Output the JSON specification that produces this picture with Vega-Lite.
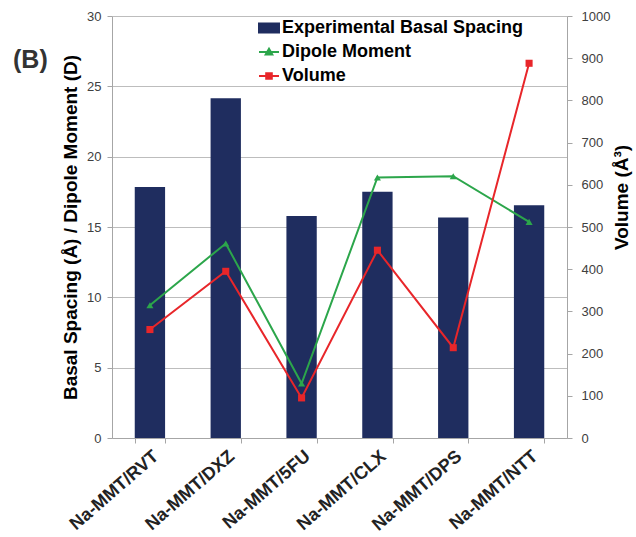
{
  "$schema": "https://vega.github.io/schema/vega-lite/v6.json",
  "width": 455,
  "height": 422,
  "autosize": "none",
  "padding": {"left": 112, "top": 16, "right": 69, "bottom": 99},
  "config": {
    "font": "Liberation Sans",
    "view": {"stroke": null},
    "axis": {
      "domainColor": "#a6a6a6",
      "tickColor": "#a6a6a6",
      "tickSize": 5,
      "labelFont": "Liberation Sans",
      "titleFont": "Liberation Sans"
    }
  },
  "title": {
    "text": "(B)",
    "anchor": "start",
    "frame": "group",
    "fontSize": 25,
    "fontWeight": "bold",
    "color": "#333333",
    "baseline": "alphabetic",
    "offset": 0,
    "dx": -99,
    "dy": 83
  },
  "data": {
    "values": [
      {"cat": "Na-MMT/RVT", "spacing": 17.85, "dipole": 9.44, "volume": 257},
      {"cat": "Na-MMT/DXZ", "spacing": 24.16, "dipole": 13.83, "volume": 395},
      {"cat": "Na-MMT/5FU", "spacing": 15.79, "dipole": 3.87, "volume": 95},
      {"cat": "Na-MMT/CLX", "spacing": 17.5, "dipole": 18.52, "volume": 445},
      {"cat": "Na-MMT/DPS", "spacing": 15.68, "dipole": 18.61, "volume": 214},
      {"cat": "Na-MMT/NTT", "spacing": 16.55, "dipole": 15.36, "volume": 888}
    ]
  },
  "encoding": {
    "x": {
      "field": "cat",
      "type": "nominal",
      "sort": null,
      "scale": {"paddingInner": 0.6, "paddingOuter": 0.3},
      "axis": {
        "title": null,
        "labelAngle": -41,
        "labelAlign": "right",
        "labelBaseline": "top",
        "labelFontSize": 18,
        "labelFontWeight": "bold",
        "labelColor": "#222222",
        "labelPadding": 4,
        "labelLimit": 0,
        "tickBand": "extent",
        "grid": false
      }
    }
  },
  "layer": [
    {
      "layer": [
        {
          "mark": {"type": "bar", "color": "#1f2d5f"},
          "encoding": {
            "y": {
              "field": "spacing",
              "type": "quantitative",
              "scale": {"domain": [0, 30], "nice": false},
              "axis": {
                "title": "Basal Spacing (Å) / Dipole Moment (D)",
                "values": [0, 5, 10, 15, 20, 25, 30],
                "grid": true,
                "gridColor": "#bdbdbd",
                "labelFontSize": 13,
                "labelColor": "#404040",
                "labelPadding": 6,
                "titleFontSize": 19,
                "titleFontWeight": "bold",
                "titleColor": "#000000",
                "titleAngle": 270,
                "titleBaseline": "middle",
                "titleAlign": "center",
                "titleX": -42,
                "titleY": 211,
                "titleLimit": 0
              }
            },
            "color": {
              "datum": "Experimental Basal Spacing",
              "type": "nominal",
              "scale": {
                "domain": ["Experimental Basal Spacing", "Dipole Moment", "Volume"],
                "range": ["#1f2d5f", "#2ca64b", "#e8262a"]
              },
              "legend": {
                "orient": "none",
                "legendX": 146,
                "legendY": 1,
                "title": null,
                "padding": 0,
                "symbolSize": 400,
                "labelFontSize": 18,
                "labelFont": "Liberation Sans",
                "labelFontWeight": "bold",
                "labelColor": "#000000",
                "labelOffset": 2,
                "labelLimit": 0,
                "rowPadding": 4,
                "encode": {
                  "symbols": {
                    "update": {
                      "shape": {"signal": "datum.value === 'Experimental Basal Spacing' ? 'M-1,-0.45H1V0.45H-1Z' : datum.value === 'Dipole Moment' ? 'M-1,0H1M0,-0.33L0.33,0.25H-0.33Z' : 'M-1,0H1M-0.28,-0.28H0.28V0.28H-0.28Z'"},
                      "fill": {"signal": "datum.value === 'Experimental Basal Spacing' ? '#1f2d5f' : datum.value === 'Dipole Moment' ? '#2ca64b' : '#e8262a'"},
                      "stroke": {"signal": "datum.value === 'Experimental Basal Spacing' ? 'transparent' : datum.value === 'Dipole Moment' ? '#2ca64b' : '#e8262a'"},
                      "strokeWidth": {"value": 2},
                      "opacity": {"value": 1},
                      "fillOpacity": {"value": 1}
                    }
                  }
                }
              }
            }
          }
        },
        {
          "mark": {
            "type": "line",
            "strokeWidth": 2,
            "point": {"shape": "triangle-up", "size": 50, "filled": true, "opacity": 1}
          },
          "encoding": {
            "y": {
              "field": "dipole",
              "type": "quantitative",
              "title": "Basal Spacing (Å) / Dipole Moment (D)"
            },
            "color": {"datum": "Dipole Moment", "type": "nominal"}
          }
        }
      ]
    },
    {
      "mark": {
        "type": "line",
        "strokeWidth": 2,
        "point": {"shape": "square", "size": 50, "filled": true, "opacity": 1}
      },
      "encoding": {
        "y": {
          "field": "volume",
          "type": "quantitative",
          "scale": {"domain": [0, 1000], "nice": false},
          "axis": {
            "orient": "right",
            "title": "Volume (Å³)",
            "values": [0, 100, 200, 300, 400, 500, 600, 700, 800, 900, 1000],
            "format": "d",
            "grid": false,
            "labelFontSize": 13,
            "labelColor": "#404040",
            "labelPadding": 9,
            "titleFontSize": 19,
            "titleFontWeight": "bold",
            "titleColor": "#000000",
            "titleAngle": 270,
            "titleBaseline": "middle",
            "titleAlign": "center",
            "titleX": 54,
            "titleY": 181
          }
        },
        "color": {"datum": "Volume", "type": "nominal"}
      }
    }
  ],
  "resolve": {"scale": {"y": "independent"}, "axis": {"y": "independent"}}
}
